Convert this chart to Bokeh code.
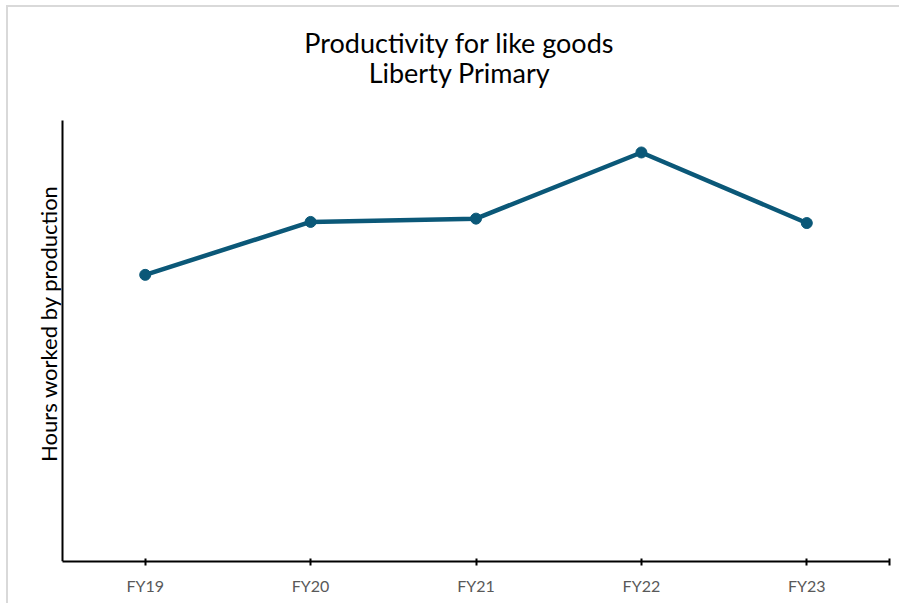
import math
from bokeh.plotting import figure
from bokeh.models import Range1d, FixedTicker, Label, LinearAxis
from bokeh.embed import file_html
from bokeh.resources import INLINE

categories = ["FY19", "FY20", "FY21", "FY22", "FY23"]
hours = [2.60, 3.08, 3.11, 3.71, 3.07]
title_lines = ["Productivity for like goods", "Liberty Primary"]
y_label = "Hours worked by production"

FONT = "Lato"
LINE_COLOR = "#0B5878"

xs = list(range(len(categories)))
n = len(categories)

# the frame fills the canvas (except the bottom axis strip) so the titles fit inside it;
# the axis lines are limited with bounds and the value axis is pinned at the first category edge
p = figure(width=893, height=598, output_backend="svg", toolbar_location=None,
           x_range=Range1d(-0.8265, n - 0.5), y_range=Range1d(0, 5.025),
           y_axis_location=None,
           min_border_left=0, min_border_right=12, min_border_top=0, min_border_bottom=44)
p.margin = (5, 0, 0, 6)
p.styles = {"border-left": "2px solid #d9d9d9", "border-top": "2px solid #d9d9d9"}

p.outline_line_color = None
p.grid.grid_line_color = None
p.background_fill_color = "white"
p.border_fill_color = "white"

yaxis = LinearAxis(fixed_location=-0.5, bounds=(0, 4.0), ticker=FixedTicker(ticks=[]),
                   axis_line_color="black", axis_line_width=2,
                   major_tick_line_color=None, minor_tick_line_color=None,
                   major_tick_in=0, major_tick_out=0, major_label_standoff=0,
                   major_label_text_font_size="0px")
p.add_layout(yaxis, "right")

p.add_layout(Label(x=451, y=519, x_units="screen", y_units="screen", text=title_lines[0],
                   text_font=FONT, text_font_size="27px", text_color="#000000",
                   text_align="center", text_baseline="alphabetic"))
p.add_layout(Label(x=451, y=489, x_units="screen", y_units="screen", text=title_lines[1],
                   text_font=FONT, text_font_size="27px", text_color="#000000",
                   text_align="center", text_baseline="alphabetic"))
p.add_layout(Label(x=40, y=238, x_units="screen", y_units="screen", text=y_label, angle=math.pi / 2,
                   text_font=FONT, text_font_size="22px", text_color="#000000",
                   text_align="center", text_baseline="middle"))

p.line(xs, hours, line_color=LINE_COLOR, line_width=4.5)
p.scatter(xs, hours, size=11, fill_color=LINE_COLOR, line_color=LINE_COLOR)

ticks = xs + [n - 0.5]
p.xaxis.ticker = FixedTicker(ticks=ticks)
p.xaxis.bounds = (-0.5, n - 0.5)
overrides = {i: c for i, c in enumerate(categories)}
overrides[n - 0.5] = ""
p.xaxis.major_label_overrides = overrides
p.xaxis.axis_line_color = "black"
p.xaxis.axis_line_width = 2
p.xaxis.major_tick_line_color = "black"
p.xaxis.major_tick_line_width = 2
p.xaxis.major_tick_in = 3
p.xaxis.major_tick_out = 4
p.xaxis.minor_tick_line_color = None
p.xaxis.major_label_text_font = FONT
p.xaxis.major_label_text_font_size = "16px"
p.xaxis.major_label_text_color = "#595959"
p.xaxis.major_label_standoff = 10

open("out.html", "w").write(file_html(p, INLINE))
